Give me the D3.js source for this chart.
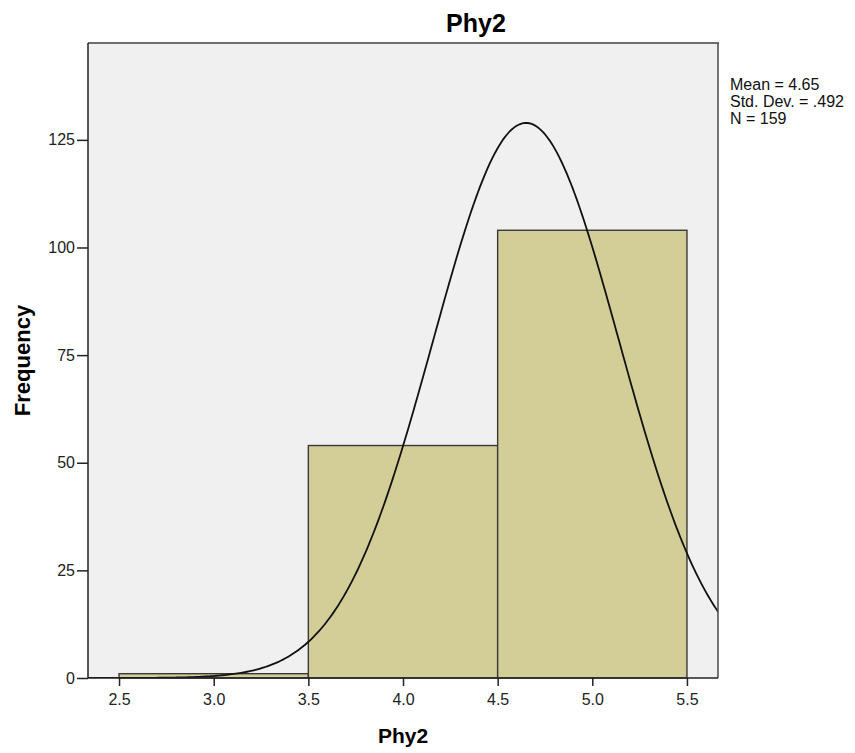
<!DOCTYPE html>
<html>
<head>
<meta charset="utf-8">
<script src="https://cdn.jsdelivr.net/npm/d3@7"></script>
<style>
  body { margin: 0; background: #fff; }
  svg { font-family: "Liberation Sans", Arial, sans-serif; }
</style>
</head>
<body>
<div id="chart"></div>
<script>
// histogram bins (lower edge, upper edge, count)
const binStarts = [2.5, 3.5, 4.5];
const binEnds = [3.5, 4.5, 5.5];
const binCounts = [1, 54, 104];
const xTicks = [2.5, 3.0, 3.5, 4.0, 4.5, 5.0, 5.5];
const yTicks = [0, 25, 50, 75, 100, 125];
const legendLines = ['Mean = 4.65', 'Std. Dev. = .492', 'N = 159'];
const mean = 4.65, sd = 0.492, n = 159;

const width = 855, height = 753;
const plot = {left: 88, right: 718, top: 43, bottom: 678};

const svg = d3.select('#chart').append('svg')
  .attr('width', width).attr('height', height);

const x = d3.scaleLinear().domain([2.336, 5.664]).range([plot.left, plot.right]);
const y = d3.scaleLinear().domain([0, 147.5]).range([plot.bottom, plot.top]);

// plot background
svg.append('rect')
  .attr('x', plot.left).attr('y', plot.top)
  .attr('width', plot.right - plot.left).attr('height', plot.bottom - plot.top)
  .attr('fill', '#f0f0f0');

svg.append('clipPath').attr('id', 'clip').append('rect')
  .attr('x', plot.left).attr('y', plot.top)
  .attr('width', plot.right - plot.left).attr('height', plot.bottom - plot.top);

// bars
const bins = binStarts.map((s, i) => ({x0: s, x1: binEnds[i], count: binCounts[i]}));
svg.append('g').selectAll('rect').data(bins).join('rect')
  .attr('x', d => x(d.x0))
  .attr('y', d => y(d.count))
  .attr('width', d => x(d.x1) - x(d.x0))
  .attr('height', d => y(0) - y(d.count))
  .attr('fill', '#d3ce97')
  .attr('stroke', '#383838')
  .attr('stroke-width', 1.4);

// fitted normal curve: n * binwidth * pdf
const binWidth = binEnds[0] - binStarts[0];
const curvePts = d3.range(2.336, 5.67, 0.01).map(v => {
  const z = (v - mean) / sd;
  return [v, n * binWidth * Math.exp(-0.5 * z * z) / (sd * Math.sqrt(2 * Math.PI))];
});
svg.append('path')
  .datum(curvePts)
  .attr('clip-path', 'url(#clip)')
  .attr('fill', 'none')
  .attr('stroke', '#111')
  .attr('stroke-width', 1.8)
  .attr('d', d3.line().x(d => x(d[0])).y(d => y(d[1])));

// frame
svg.append('line')
  .attr('x1', plot.left).attr('x2', plot.right + 1)
  .attr('y1', plot.top).attr('y2', plot.top)
  .attr('stroke', '#6e6e6e').attr('stroke-width', 2);
svg.append('line')
  .attr('x1', plot.right).attr('x2', plot.right)
  .attr('y1', plot.top).attr('y2', plot.bottom)
  .attr('stroke', '#4a4a4a').attr('stroke-width', 1.5);

// axes
const xAxis = svg.append('g')
  .attr('transform', `translate(0,${plot.bottom})`)
  .call(d3.axisBottom(x).tickValues(xTicks).tickFormat(d3.format('.1f')).tickSize(8).tickPadding(8));
const yAxis = svg.append('g')
  .attr('transform', `translate(${plot.left},0)`)
  .call(d3.axisLeft(y).tickValues(yTicks).tickSize(11).tickPadding(2));

[xAxis, yAxis].forEach(g => {
  g.select('.domain').remove();
  g.selectAll('.tick line').attr('stroke', '#222').attr('stroke-width', 1.5);
  g.selectAll('.tick text').attr('fill', '#222').attr('font-size', '16px')
    .attr('font-family', '"Liberation Sans", Arial, sans-serif');
});
svg.append('line')
  .attr('x1', plot.left).attr('x2', plot.right)
  .attr('y1', plot.bottom).attr('y2', plot.bottom)
  .attr('stroke', '#222').attr('stroke-width', 1.5);
svg.append('line')
  .attr('x1', plot.left).attr('x2', plot.left)
  .attr('y1', plot.top).attr('y2', plot.bottom)
  .attr('stroke', '#222').attr('stroke-width', 1.5);

// titles
svg.append('text').text('Phy2')
  .attr('x', 476).attr('y', 32)
  .attr('text-anchor', 'middle')
  .attr('font-size', '25px').attr('font-weight', 'bold');
svg.append('text').text('Phy2')
  .attr('x', (plot.left + plot.right) / 2).attr('y', 743)
  .attr('text-anchor', 'middle')
  .attr('font-size', '21px').attr('font-weight', 'bold');
svg.append('text').text('Frequency')
  .attr('transform', `translate(30, ${(plot.top + plot.bottom) / 2}) rotate(-90)`)
  .attr('text-anchor', 'middle')
  .attr('font-size', '22px').attr('font-weight', 'bold');

// stats legend
svg.append('g').selectAll('text').data(legendLines).join('text')
  .text(d => d)
  .attr('x', 730)
  .attr('y', (d, i) => 90 + i * 17)
  .attr('font-size', '16px')
  .attr('fill', '#111');
</script>
</body>
</html>
